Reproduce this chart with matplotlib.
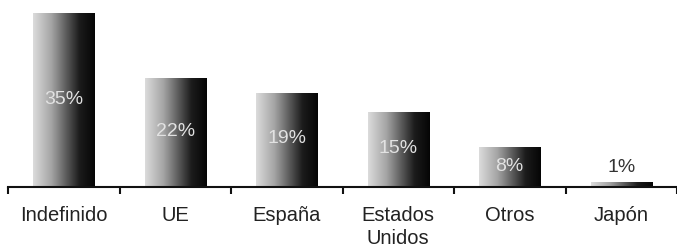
import numpy as np
import matplotlib
matplotlib.use("Agg")
import matplotlib.pyplot as plt
from matplotlib.colors import LinearSegmentedColormap

categories = ["Indefinido", "UE", "España", "Estados\nUnidos", "Otros", "Japón"]
values = [35, 22, 19, 15, 8, 1]
labels = ["35%", "22%", "19%", "15%", "8%", "1%"]

plt.rcParams['font.family'] = ['Liberation Sans', 'DejaVu Sans']

fig = plt.figure(figsize=(6.77, 2.49), dpi=100)
ax = fig.add_axes([8/677, 62/249, 669/677, 187/249])

x = np.arange(len(categories))
width = 0.55
bars = ax.bar(x, values, width=width, color='none', edgecolor='none', zorder=2)

cmap = LinearSegmentedColormap.from_list(
    "g", [(0.0, "#dcdcdc"), (0.3, "#a4a4a4"), (0.55, "#585858"),
          (0.75, "#1c1c1c"), (1.0, "#050505")])
grad = np.linspace(0, 1, 256).reshape(1, -1)
for b in bars:
    x0, w, h = b.get_x(), b.get_width(), b.get_height()
    im = ax.imshow(grad, cmap=cmap, aspect='auto', extent=[x0, x0 + w, 0, h],
                   zorder=2, interpolation='bilinear')
    im.set_clip_path(b)

for xi, v, lab in zip(x, values, labels):
    if v >= 5:
        ax.text(xi, v / 2 + 0.2, lab, ha='center', va='center', fontsize=14,
                color='#e2e2e2', zorder=3)
    else:
        ax.text(xi, v + 1.3, lab, ha='center', va='bottom', fontsize=14,
                color='#333333', zorder=3)

ax.set_xlim(-0.5, -0.5 + 669/112)
ax.set_ylim(0, 187/4.97)

for s in ['top', 'right', 'left']:
    ax.spines[s].set_visible(False)
ax.spines['bottom'].set_linewidth(1.5)
ax.spines['bottom'].set_color('#111111')
ax.set_yticks([])
ax.set_xticks(np.arange(len(categories) + 1) - 0.5, minor=False)
ax.set_xticklabels([])
ax.tick_params(axis='x', which='major', length=5, width=1.5, direction='out', color='#111111')
ax.set_xticks(x, minor=True)
ax.set_xticklabels(categories, minor=True, fontsize=14.5, color='#222222', linespacing=1.25)
ax.tick_params(axis='x', which='minor', length=0, pad=14)

fig.savefig("out.png", dpi=100)
